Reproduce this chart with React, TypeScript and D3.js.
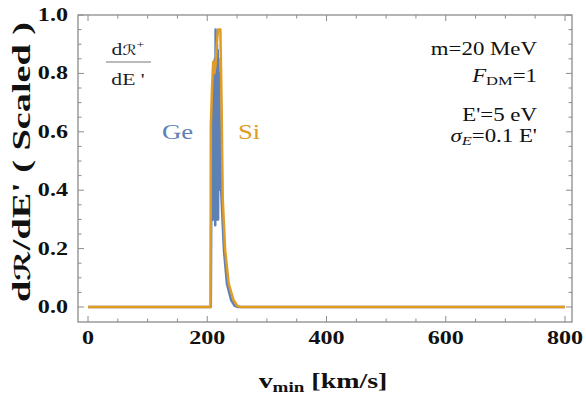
import React from 'react';
import * as d3 from 'd3';

// v_min [km/s] and scaled rates
const geV = [0, 206, 207, 207.5, 208, 208.6, 209.2, 209.8, 210.4, 211, 211.6, 212.2, 212.8, 213.4, 214, 214.6, 215.2, 215.8, 216.4, 217, 217.6, 218.2, 218.8, 219.4, 220, 221, 222.5, 224, 228, 233, 240, 246, 252, 800];
const geR = [0, 0, 0.45, 0.3, 0.6, 0.35, 0.7, 0.3, 0.75, 0.32, 0.8, 0.35, 0.85, 0.28, 0.95, 0.4, 0.93, 0.3, 0.9, 0.35, 0.88, 0.3, 0.85, 0.4, 0.8, 0.6, 0.45, 0.37, 0.195, 0.08, 0.024, 0.004, 0, 0];

const siV = [0, 205.5, 206, 208, 210, 212, 214, 216, 218, 222, 224, 226, 230, 236, 244, 250, 255, 800];
const siR = [0, 0, 0.62, 0.75, 0.84, 0.8, 0.83, 0.9, 0.95, 0.95, 0.7, 0.37, 0.195, 0.08, 0.024, 0.005, 0, 0];

const xTicks = [0, 200, 400, 600, 800];
const yTicks = [0, 0.2, 0.4, 0.6, 0.8, 1.0];

const GE = '#5E81B5';
const SI = '#E19C24';
const FRAME = '#8c8c8c';
const SERIF = '"Liberation Serif", "Times New Roman", serif';
const SCRIPT = '"DejaVu Serif", "DejaVu Sans", serif';
const SX = 1.27; // the figure is stretched horizontally

const W = 586, H = 399;
const left = 78, right = 572, top = 15, bottom = 322;

export default function App() {
  const x = d3.scaleLinear().domain([0, 800]).range([88, 565]);
  const y = d3.scaleLinear().domain([0, 1]).range([307, 15]);

  const line = d3.line<[number, number]>()
    .x(d => x(d[0]))
    .y(d => y(d[1]))
    .curve(d3.curveLinear);

  const ge = geV.map((v, i) => [v, geR[i]] as [number, number]);
  const si = siV.map((v, i) => [v, siR[i]] as [number, number]);

  const xMinor = d3.range(0, 801, 50);
  const yMinor = d3.range(0, 1.001, 0.05);

  const tickLen = (major: boolean) => (major ? 6 : 3.5);

  return (
    <svg width={W} height={H} style={{ position: 'absolute', left: 0, top: 0, background: '#fff' }}>
      {/* curves */}
      <g clipPath="url(#clip)">
        <defs>
          <clipPath id="clip">
            <rect x={left} y={top - 5} width={right - left} height={bottom - top + 5} />
          </clipPath>
        </defs>
        <path d={line(ge) || ''} fill="none" stroke={GE} strokeWidth={2.5} strokeLinejoin="round" />
        <path d={line(si) || ''} fill="none" stroke={SI} strokeWidth={2.5} strokeLinejoin="round" />
      </g>

      {/* frame */}
      <rect x={left} y={top} width={right - left} height={bottom - top} fill="none" stroke={FRAME} strokeWidth={1.3} />

      {xMinor.map(v => {
        const major = v % 200 === 0;
        const l = tickLen(major);
        return (
          <g key={'x' + v} stroke={FRAME} strokeWidth={1}>
            <line x1={x(v)} x2={x(v)} y1={bottom} y2={bottom - l} />
            <line x1={x(v)} x2={x(v)} y1={top} y2={top + l} />
          </g>
        );
      })}
      {yMinor.map((v, i) => {
        const major = i % 4 === 0;
        const l = tickLen(major);
        return (
          <g key={'y' + i} stroke={FRAME} strokeWidth={1}>
            <line x1={left} x2={left + l} y1={y(v)} y2={y(v)} />
            <line x1={right} x2={right - l} y1={y(v)} y2={y(v)} />
          </g>
        );
      })}

      {/* tick labels */}
      {xTicks.map(v => (
        <g key={'xl' + v} transform={`translate(${x(v)},${344}) scale(${SX},1)`}>
          <text textAnchor="middle" fontFamily={SERIF} fontWeight="bold" fontSize={19} fill="#111">{v}</text>
        </g>
      ))}
      {yTicks.map(v => (
        <g key={'yl' + v} transform={`translate(68,${y(v) + 6}) scale(${SX},1)`}>
          <text textAnchor="end" fontFamily={SERIF} fontWeight="bold" fontSize={19} fill="#111">{d3.format('.1f')(v)}</text>
        </g>
      ))}

      {/* axis titles */}
      <g transform={`translate(323,388) scale(${SX},1)`}>
        <text textAnchor="middle" fontFamily={SERIF} fontWeight="bold" fontSize={22} fill="#111">
          v<tspan fontSize={15} dy={4}>min</tspan><tspan dy={-4}> [km/s]</tspan>
        </text>
      </g>
      <g transform={`translate(30,162) rotate(-90) scale(1,${SX})`}>
        <text textAnchor="middle" fontFamily={SERIF} fontWeight="bold" fontSize={20} fill="#111"
          textLength={280} lengthAdjust="spacingAndGlyphs">
          d<tspan fontFamily={SCRIPT} fontSize={17}>ℛ</tspan>/dE'  ( Scaled )
        </text>
      </g>

      {/* inset fraction */}
      <g transform={`translate(128,55) scale(${SX},1)`}>
        <text textAnchor="middle" fontFamily={SERIF} fontSize={17} fill="#1a2230">
          d<tspan fontFamily={SCRIPT} fontSize={14}>ℛ</tspan><tspan fontSize={11} dy={-7}>+</tspan>
        </text>
      </g>
      <line x1={106} x2={151} y1={62} y2={62} stroke="#777" strokeWidth={1.2} />
      <g transform={`translate(128,85) scale(${SX},1)`}>
        <text textAnchor="middle" fontFamily={SERIF} fontSize={17} fill="#1a2230">dE '</text>
      </g>

      {/* parameters */}
      <g fontFamily={SERIF} fontSize={18} fill="#111">
        <g transform={`translate(537,55) scale(${SX},1)`}>
          <text textAnchor="end">m=20 MeV</text>
        </g>
        <g transform={`translate(537,82) scale(${SX},1)`}>
          <text textAnchor="end">
            <tspan fontStyle="italic">F</tspan><tspan fontSize={13} dy={3}>DM</tspan><tspan dy={-3}>=1</tspan>
          </text>
        </g>
        <g transform={`translate(537,121) scale(${SX},1)`}>
          <text textAnchor="end">E'=5 eV</text>
        </g>
        <g transform={`translate(537,142) scale(${SX},1)`}>
          <text textAnchor="end">
            <tspan fontStyle="italic">σ</tspan><tspan fontSize={13} fontStyle="italic" dy={3}>E</tspan><tspan dy={-3}>=0.1 E'</tspan>
          </text>
        </g>
      </g>

      {/* series labels */}
      <g transform={`translate(162,139) scale(${SX},1)`}>
        <text fontFamily={SERIF} fontSize={21} fill={GE}>Ge</text>
      </g>
      <g transform={`translate(238,139) scale(${SX},1)`}>
        <text fontFamily={SERIF} fontSize={21} fill={SI}>Si</text>
      </g>
    </svg>
  );
}
